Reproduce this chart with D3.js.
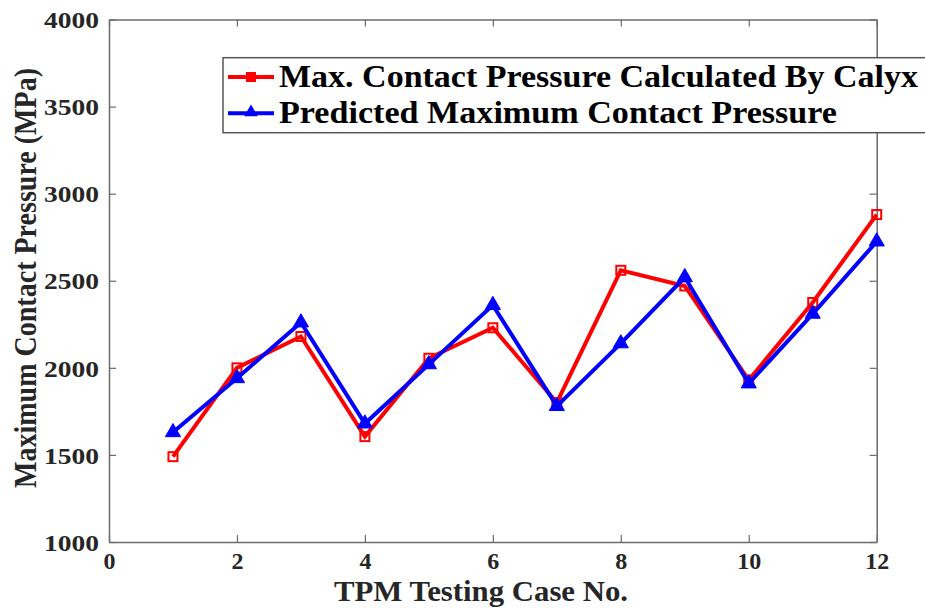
<!DOCTYPE html>
<html>
<head>
<meta charset="utf-8">
<script src="https://cdn.jsdelivr.net/npm/d3@7/dist/d3.min.js"></script>
<style>
  html, body { margin: 0; padding: 0; background: #fff; }
  svg { display: block; }
  svg text { font-family: "Liberation Serif", "Times New Roman", Tinos, serif !important; font-weight: bold; }
</style>
</head>
<body>
<svg id="chart" width="925" height="609"></svg>
<script>
// ---- data ----
const cases = [1, 2, 3, 4, 5, 6, 7, 8, 9, 10, 11, 12];
const calyxValues = [1490, 2000, 2180, 1605, 2055, 2230, 1800, 2560, 2470, 1930, 2375, 2880];
const predictedValues = [1630, 1940, 2260, 1680, 2020, 2360, 1780, 2140, 2520, 1910, 2310, 2725];
const xTicks = [0, 2, 4, 6, 8, 10, 12];
const yTicks = [1000, 1500, 2000, 2500, 3000, 3500, 4000];
const seriesNames = ["Max. Contact Pressure Calculated By Calyx", "Predicted Maximum Contact Pressure"];
const xTitle = "TPM Testing Case No.";
const yTitle = "Maximum Contact Pressure (MPa)";

// ---- layout ----
const svg = d3.select("#chart");
const L = 109, R = 876.7, T = 19.5, B = 542;
const x = d3.scaleLinear().domain([0, 12]).range([L, R]);
const y = d3.scaleLinear().domain([1000, 4000]).range([B, T]);
const axisColor = "#6b6b6b";
const textColor = "#262626";
const fmt = d3.format("d");

// axes (box with inward ticks)
const gx = svg.append("g").attr("transform", `translate(0,${B})`)
  .call(d3.axisBottom(x).tickValues(xTicks).tickFormat(fmt).tickSizeInner(-7).tickSizeOuter(0).tickPadding(10));
const gxTop = svg.append("g").attr("transform", `translate(0,${T})`)
  .call(d3.axisTop(x).tickValues(xTicks).tickSizeInner(-7).tickSizeOuter(0).tickFormat(""));
const gy = svg.append("g").attr("transform", `translate(${L},0)`)
  .call(d3.axisLeft(y).tickValues(yTicks).tickFormat(fmt).tickSizeInner(-7).tickSizeOuter(0).tickPadding(10));
const gyR = svg.append("g").attr("transform", `translate(${R},0)`)
  .call(d3.axisRight(y).tickValues(yTicks).tickSizeInner(-7).tickSizeOuter(0).tickFormat(""));

[gx, gxTop, gy, gyR].forEach(g => {
  g.attr("font-family", null).attr("font-size", null);
  g.select(".domain").attr("stroke", axisColor).attr("stroke-width", 1.5);
  g.selectAll(".tick line").attr("stroke", axisColor).attr("stroke-width", 1.2);
});
gx.selectAll(".tick text").style("font-size", "24px").attr("fill", textColor).attr("dy", "0.71em");
gy.selectAll(".tick text").style("font-size", "24px").attr("fill", textColor)
  .attr("dy", "0.34em").attr("x", -10)
  .attr("textLength", 55).attr("lengthAdjust", "spacingAndGlyphs");

// axis titles
svg.append("text").attr("x", (334 + 628) / 2).attr("y", 601)
  .attr("text-anchor", "middle").style("font-size", "30px").attr("fill", textColor)
  .attr("textLength", 294).attr("lengthAdjust", "spacingAndGlyphs").text(xTitle);
svg.append("text").attr("transform", "translate(36,278) rotate(-90)")
  .attr("text-anchor", "middle").style("font-size", "32px").attr("fill", textColor)
  .attr("textLength", 420).attr("lengthAdjust", "spacingAndGlyphs").text(yTitle);

// lines
const line = d3.line().x(d => x(d[0])).y(d => y(d[1]));
const calyx = cases.map((c, i) => [c, calyxValues[i]]);
const pred = cases.map((c, i) => [c, predictedValues[i]]);

svg.append("path").datum(calyx).attr("d", line)
  .attr("fill", "none").attr("stroke", "#ff0000").attr("stroke-width", 4).attr("stroke-linejoin", "miter");
svg.append("g").selectAll("rect").data(calyx).join("rect")
  .attr("x", d => x(d[0]) - 4.5).attr("y", d => y(d[1]) - 4.5)
  .attr("width", 9).attr("height", 9)
  .attr("fill", "none").attr("stroke", "#ff0000").attr("stroke-width", 2);

svg.append("path").datum(pred).attr("d", line)
  .attr("fill", "none").attr("stroke", "#0000ff").attr("stroke-width", 4).attr("stroke-linejoin", "miter");
const tri = d3.symbol().type(d3.symbolTriangle).size(100);
svg.append("g").selectAll("path").data(pred).join("path")
  .attr("d", tri)
  .attr("transform", d => `translate(${x(d[0])},${y(d[1])})`)
  .attr("fill", "#0000ff").attr("stroke", "#0000ff").attr("stroke-width", 1);

// legend
const lg = svg.append("g");
lg.append("rect").attr("x", 223).attr("y", 57.7).attr("width", 740).attr("height", 75)
  .attr("fill", "#fff").attr("stroke", "#555").attr("stroke-width", 1.5);
const legendRows = [
  { name: seriesNames[0], color: "#ff0000", marker: "square", cy: 77, width: 639 },
  { name: seriesNames[1], color: "#0000ff", marker: "triangle", cy: 113.3, width: 558 }
];
legendRows.forEach(r => {
  lg.append("line").attr("x1", 228).attr("x2", 274).attr("y1", r.cy).attr("y2", r.cy)
    .attr("stroke", r.color).attr("stroke-width", 4);
  if (r.marker === "square") {
    lg.append("rect").attr("x", 251 - 4.5).attr("y", r.cy - 4.5).attr("width", 9).attr("height", 9)
      .attr("fill", r.color).attr("stroke", r.color).attr("stroke-width", 1);
  } else {
    lg.append("path").attr("d", d3.symbol().type(d3.symbolTriangle).size(80)())
      .attr("transform", `translate(251,${r.cy - 1})`).attr("fill", r.color);
  }
  lg.append("text").attr("x", 279).attr("y", r.cy + 10).style("font-size", "31px").attr("fill", "#000")
    .attr("textLength", r.width).attr("lengthAdjust", "spacingAndGlyphs").text(r.name);
});
</script>
</body>
</html>
